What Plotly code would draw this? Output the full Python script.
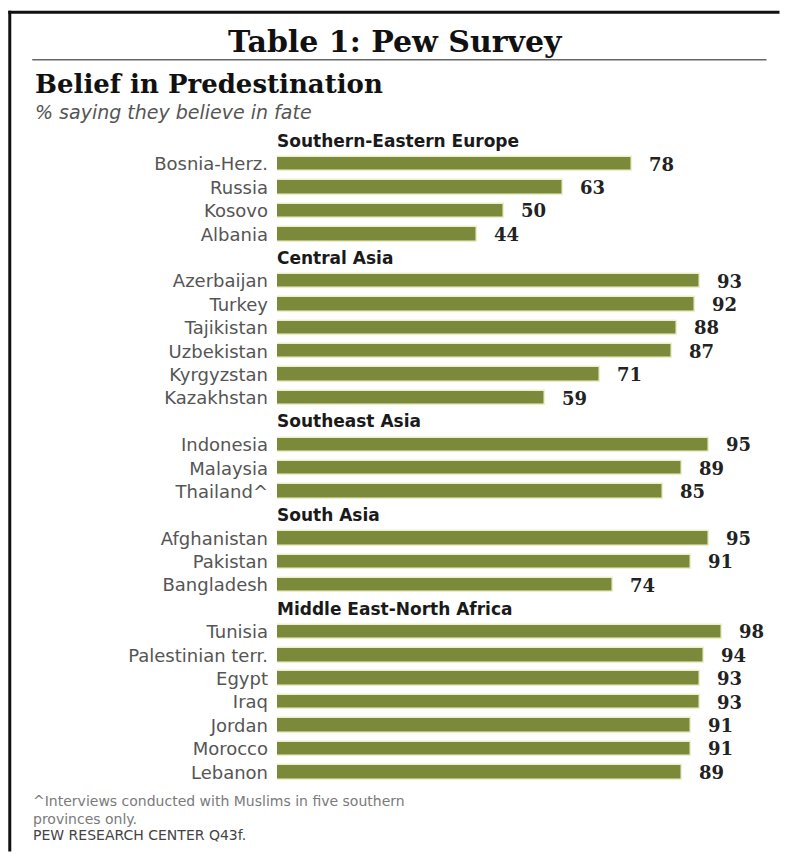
import plotly.graph_objects as go

# ---------------- data ----------------
groups = [
    "Southern-Eastern Europe",
    "Central Asia",
    "Southeast Asia",
    "South Asia",
    "Middle East-North Africa",
]
see_countries = ["Bosnia-Herz.", "Russia", "Kosovo", "Albania"]
see_values = [78, 63, 50, 44]
ca_countries = ["Azerbaijan", "Turkey", "Tajikistan", "Uzbekistan", "Kyrgyzstan", "Kazakhstan"]
ca_values = [93, 92, 88, 87, 71, 59]
sea_countries = ["Indonesia", "Malaysia", "Thailand^"]
sea_values = [95, 89, 85]
sa_countries = ["Afghanistan", "Pakistan", "Bangladesh"]
sa_values = [95, 91, 74]
mena_countries = ["Tunisia", "Palestinian terr.", "Egypt", "Iraq", "Jordan", "Morocco", "Lebanon"]
mena_values = [98, 94, 93, 93, 91, 91, 89]

title_text = "Table 1: Pew Survey"
heading_text = "Belief in Predestination"
subtitle_text = "% saying they believe in fate"
footnote_text = "^Interviews conducted with Muslims in five southern<br>provinces only."
source_text = "PEW RESEARCH CENTER Q43f."

# ---------------- layout geometry ----------------
PAGE_OFF = 8          # default body margin of the html page
FIG_W, FIG_H = 772, 844
PLOT_LEFT_PAGE = 277
PLOT_RIGHT_PAGE = 777.5
PLOT_TOP_PAGE = 129.3
PLOT_BOTTOM_PAGE = 784.5

L = PLOT_LEFT_PAGE - PAGE_OFF
R = FIG_W - (PLOT_RIGHT_PAGE - PAGE_OFF)
T = PLOT_TOP_PAGE - PAGE_OFF
B = FIG_H - (PLOT_BOTTOM_PAGE - PAGE_OFF)
PW = FIG_W - L - R
PH = FIG_H - T - B
PX_PER_UNIT = 4.55


def px_x(px):
    return (px - PAGE_OFF - L) / PW


def px_y(py):
    return 1 - (py - PAGE_OFF - T) / PH


# build slot positions (one slot per header + one per country)
group_data = [
    (groups[0], see_countries, see_values),
    (groups[1], ca_countries, ca_values),
    (groups[2], sea_countries, sea_values),
    (groups[3], sa_countries, sa_values),
    (groups[4], mena_countries, mena_values),
]
bar_y, bar_x, bar_names = [], [], []
header_slots = []
slot = 0
for gname, names, vals in group_data:
    header_slots.append((gname, slot))
    slot += 1
    for n, v in zip(names, vals):
        bar_y.append(slot)
        bar_x.append(v)
        bar_names.append(n)
        slot += 1
n_slots = slot

BAR_COLOR = "#7b8a3a"

fig = go.Figure()
fig.add_trace(go.Bar(
    x=bar_x, y=bar_y, orientation="h", width=0.62,
    marker=dict(color=BAR_COLOR, line=dict(color="#eeefc8", width=1.5)),
    hoverinfo="skip", showlegend=False,
))

annotations = []
# value labels
for v, yv in zip(bar_x, bar_y):
    annotations.append(dict(
        x=v, y=yv, xref="x", yref="y", text=str(v), showarrow=False,
        xanchor="left", yanchor="middle", xshift=15,
        font=dict(family="DejaVu Serif", size=18, color="#222222", weight="bold"),
    ))
# group headers
for gname, s in header_slots:
    annotations.append(dict(
        x=0, y=s, xref="x", yref="y", text=gname, showarrow=False,
        xanchor="left", yanchor="middle", xshift=-2,
        font=dict(family="DejaVu Sans", size=17, color="#1a1a1a", weight="bold"),
    ))
# titles
annotations.append(dict(
    x=px_x(396), y=px_y(42), xref="paper", yref="paper", text=title_text,
    showarrow=False, xanchor="center", yanchor="middle",
    font=dict(family="DejaVu Serif", size=30, color="#111111", weight="bold"),
))
annotations.append(dict(
    x=px_x(33), y=px_y(84), xref="paper", yref="paper", text=heading_text,
    showarrow=False, xanchor="left", yanchor="middle",
    font=dict(family="DejaVu Serif", size=26, color="#111111", weight="bold"),
))
annotations.append(dict(
    x=px_x(33), y=px_y(112), xref="paper", yref="paper", text=subtitle_text,
    showarrow=False, xanchor="left", yanchor="middle",
    font=dict(family="DejaVu Sans", size=19, color="#555555", style="italic"),
))
annotations.append(dict(
    x=px_x(31), y=px_y(811), xref="paper", yref="paper", text=footnote_text,
    showarrow=False, xanchor="left", yanchor="middle", align="left",
    font=dict(family="DejaVu Sans", size=14, color="#7a7a7a"),
))
annotations.append(dict(
    x=px_x(31), y=px_y(836), xref="paper", yref="paper", text=source_text,
    showarrow=False, xanchor="left", yanchor="middle",
    font=dict(family="DejaVu Sans", size=14, color="#444444"),
))

FIG_RIGHT_PAGE = PAGE_OFF + FIG_W
FIG_BOTTOM_PAGE = PAGE_OFF + FIG_H
shapes = [
    # frame (left and top)
    dict(type="line", xref="paper", yref="paper",
         x0=px_x(9.5), x1=px_x(9.5), y0=px_y(11), y1=px_y(FIG_BOTTOM_PAGE),
         line=dict(color="#111111", width=3)),
    dict(type="line", xref="paper", yref="paper",
         x0=px_x(8), x1=px_x(FIG_RIGHT_PAGE), y0=px_y(12.5), y1=px_y(12.5),
         line=dict(color="#111111", width=3)),
    # rule under title
    dict(type="line", xref="paper", yref="paper",
         x0=px_x(32), x1=px_x(767), y0=px_y(60), y1=px_y(60),
         line=dict(color="#666666", width=1.5)),
]

fig.update_layout(
    width=FIG_W, height=FIG_H,
    margin=dict(l=L, r=R, t=T, b=B, pad=0),
    paper_bgcolor="white", plot_bgcolor="white",
    annotations=annotations, shapes=shapes,
    xaxis=dict(range=[0, PW / PX_PER_UNIT], visible=False, fixedrange=True),
    yaxis=dict(
        range=[n_slots - 0.5, -0.5],
        tickmode="array", tickvals=bar_y, ticktext=bar_names,
        showgrid=False, zeroline=False, showline=False, ticks="",
        ticklabelstandoff=8,
        tickfont=dict(family="DejaVu Sans", size=18, color="#555555"),
        fixedrange=True,
    ),
    bargap=0,
)

fig.write_html("out.html")
